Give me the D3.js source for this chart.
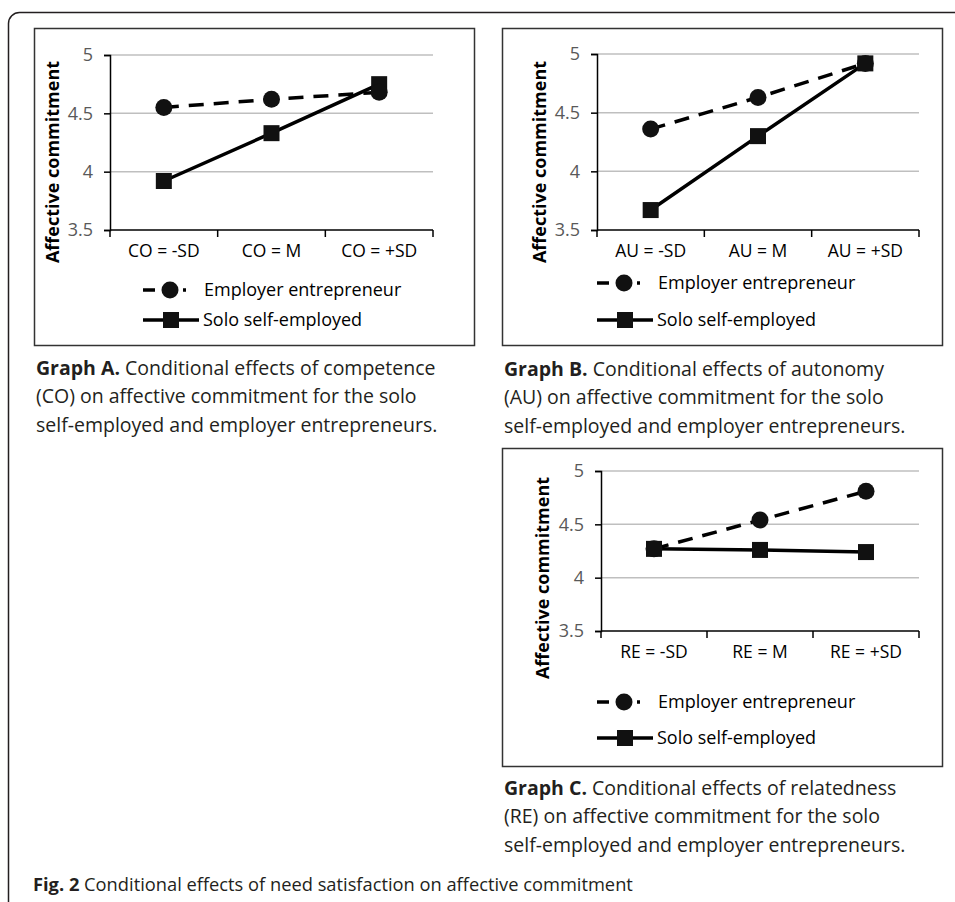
<!DOCTYPE html>
<meta charset='utf-8'>
<style>
body { margin: 0; background: #fff; }
svg { display: block; }
text { font-family: 'Open Sans', sans-serif; }
.tick text { fill: #595959; font-size: 18px; }
.grid line { stroke: #bfbfbf; stroke-width: 1.5px; }
.series { fill: none; stroke: #000; stroke-width: 3.5px; }
.dashed { stroke-dasharray: 15, 10; }
.caption { font-size: 19.5px; fill: #231f20; }
</style>
<svg id='fig' width='955' height='902'></svg>
<script src="https://cdn.jsdelivr.net/npm/d3@7"></script>
<script>

// values
const yTicks = [3.5, 4, 4.5, 5];
const seriesNames = ['Employer entrepreneur', 'Solo self-employed'];

const categoriesA = ['CO = -SD', 'CO = M', 'CO = +SD'];
const employerA = [4.55, 4.62, 4.68];
const soloA = [3.92, 4.33, 4.75];

const categoriesB = ['AU = -SD', 'AU = M', 'AU = +SD'];
const employerB = [4.36, 4.63, 4.92];
const soloB = [3.67, 4.30, 4.92];

const categoriesC = ['RE = -SD', 'RE = M', 'RE = +SD'];
const employerC = [4.27, 4.54, 4.81];
const soloC = [4.27, 4.26, 4.24];

const captionA = [['Graph A.', ' Conditional effects of competence'], ['', '(CO) on affective commitment for the solo'], ['', 'self-employed and employer entrepreneurs.']];
const captionB = [['Graph B.', ' Conditional effects of autonomy'], ['', '(AU) on affective commitment for the solo'], ['', 'self-employed and employer entrepreneurs.']];
const captionC = [['Graph C.', ' Conditional effects of relatedness'], ['', '(RE) on affective commitment for the solo'], ['', 'self-employed and employer entrepreneurs.']];

const svg = d3.select('#fig');

// outer frame, runs off the right and bottom edges
svg.append('rect')
  .attr('x', 8.5).attr('y', 12.5)
  .attr('width', 980).attr('height', 900)
  .attr('rx', 11)
  .attr('fill', 'none')
  .attr('stroke', '#231f20')
  .attr('stroke-width', 1.5);

const panels = [
  { box: [34, 28, 440, 317], plot: [110, 55, 433, 230], title: [53, 162], legend: [290, 320], lx: 143, cats: categoriesA, emp: employerA, solo: soloA, caption: captionA, cy: 368 },
  { box: [502, 28, 440, 317], plot: [597, 54, 919, 230], title: [540, 162], legend: [283, 320], lx: 597, cats: categoriesB, emp: employerB, solo: soloB, caption: captionB, cy: 369 },
  { box: [502, 448, 440, 318], plot: [601, 471, 919, 631], title: [543, 578], legend: [702, 738], lx: 597, cats: categoriesC, emp: employerC, solo: soloC, caption: captionC, cy: 788 }
];

panels.forEach(drawPanel);

function drawPanel(p) {
  const g = svg.append('g');

  g.append('rect')
    .attr('x', p.box[0] + 0.5).attr('y', p.box[1] + 0.5)
    .attr('width', p.box[2]).attr('height', p.box[3])
    .attr('fill', 'none')
    .attr('stroke', '#333')
    .attr('stroke-width', 1.5);

  const [x0, y0, x1, y1] = p.plot;
  const x = d3.scaleBand().domain(p.cats).range([x0, x1]);
  const y = d3.scaleLinear().domain([3.5, 5]).range([y1, y0]);

  // gridlines
  g.append('g').attr('class', 'grid')
    .selectAll('line')
    .data(yTicks.filter(t => t > 3.5))
    .join('line')
    .attr('x1', x0).attr('x2', x1)
    .attr('y1', d => y(d)).attr('y2', d => y(d));

  // y axis
  const ya = g.append('g')
    .attr('transform', `translate(${x0},0)`)
    .call(d3.axisLeft(y).tickValues(yTicks).tickFormat(d3.format('')).tickSize(6).tickPadding(11));
  ya.select('.domain').attr('stroke', '#000').attr('stroke-width', 1.5);
  ya.selectAll('.tick line').attr('stroke', '#000').attr('stroke-width', 1.5);

  // x axis: labels at band centres, ticks at band edges
  const xa = g.append('g')
    .attr('transform', `translate(0,${y1})`)
    .call(d3.axisBottom(x).tickSize(0).tickPadding(15));
  xa.select('.domain').remove();
  xa.selectAll('.tick text').style('fill', '#000').style('font-size', '17.5px');

  g.append('line')
    .attr('x1', x0).attr('x2', x1)
    .attr('y1', y1).attr('y2', y1)
    .attr('stroke', '#000').attr('stroke-width', 1.5);

  const edges = p.cats.map(c => x(c)).concat([x1]);
  g.selectAll('.xtick')
    .data(edges)
    .join('line')
    .attr('x1', d => d).attr('x2', d => d)
    .attr('y1', y1).attr('y2', y1 + 7)
    .attr('stroke', '#000').attr('stroke-width', 1.5);

  // y title
  g.append('text')
    .attr('transform', `translate(${p.title[0]},${p.title[1]}) rotate(-90)`)
    .attr('text-anchor', 'middle')
    .attr('dy', '0.35em')
    .style('font-weight', 'bold')
    .style('font-size', '18px')
    .text('Affective commitment');

  const cx = c => x(c) + x.bandwidth() / 2;
  const line = d3.line().x((d, i) => cx(p.cats[i])).y(d => y(d));

  g.append('path').datum(p.emp).attr('class', 'series dashed').attr('d', line);
  g.append('path').datum(p.solo).attr('class', 'series').attr('d', line);

  g.selectAll('.sq')
    .data(p.solo)
    .join('rect')
    .attr('x', (d, i) => cx(p.cats[i]) - 8)
    .attr('y', d => y(d) - 8)
    .attr('width', 16).attr('height', 16)
    .attr('fill', '#111');

  g.selectAll('.dot')
    .data(p.emp)
    .join('circle')
    .attr('cx', (d, i) => cx(p.cats[i]))
    .attr('cy', d => y(d))
    .attr('r', 8.5)
    .attr('fill', '#111');

  // legend
  const ly = p.legend;
  g.append('line')
    .attr('x1', p.lx).attr('x2', p.lx + 57)
    .attr('y1', ly[0]).attr('y2', ly[0])
    .attr('class', 'series')
    .style('stroke-dasharray', '12, 10, 8, 10, 3, 20');
  g.append('circle')
    .attr('cx', p.lx + 27).attr('cy', ly[0]).attr('r', 8.5).attr('fill', '#111');
  g.append('text')
    .attr('x', p.lx + 61).attr('y', ly[0]).attr('dy', '0.35em')
    .style('font-size', '18px')
    .text(seriesNames[0]);

  g.append('line')
    .attr('x1', p.lx).attr('x2', p.lx + 56)
    .attr('y1', ly[1]).attr('y2', ly[1])
    .attr('class', 'series');
  g.append('rect')
    .attr('x', p.lx + 20).attr('y', ly[1] - 8)
    .attr('width', 16).attr('height', 16).attr('fill', '#111');
  g.append('text')
    .attr('x', p.lx + 60).attr('y', ly[1]).attr('dy', '0.35em')
    .style('font-size', '18px')
    .text(seriesNames[1]);

  // caption below the box
  const cap = g.append('text').attr('class', 'caption');
  p.caption.forEach((ln, i) => {
    const t = cap.append('tspan')
      .attr('x', p.box[0] + 2)
      .attr('y', p.cy + i * 28.5)
      .attr('dy', '0.35em');
    t.append('tspan').style('font-weight', 'bold').text(ln[0]);
    t.append('tspan').text(ln[1]);
  });
}

const fig = svg.append('text')
  .attr('x', 33).attr('y', 885).attr('dy', '0.35em')
  .style('font-size', '18.3px')
  .style('fill', '#231f20');
fig.append('tspan').style('font-weight', 'bold').text('Fig. 2');
fig.append('tspan').text(' Conditional effects of need satisfaction on affective commitment');

</script>
